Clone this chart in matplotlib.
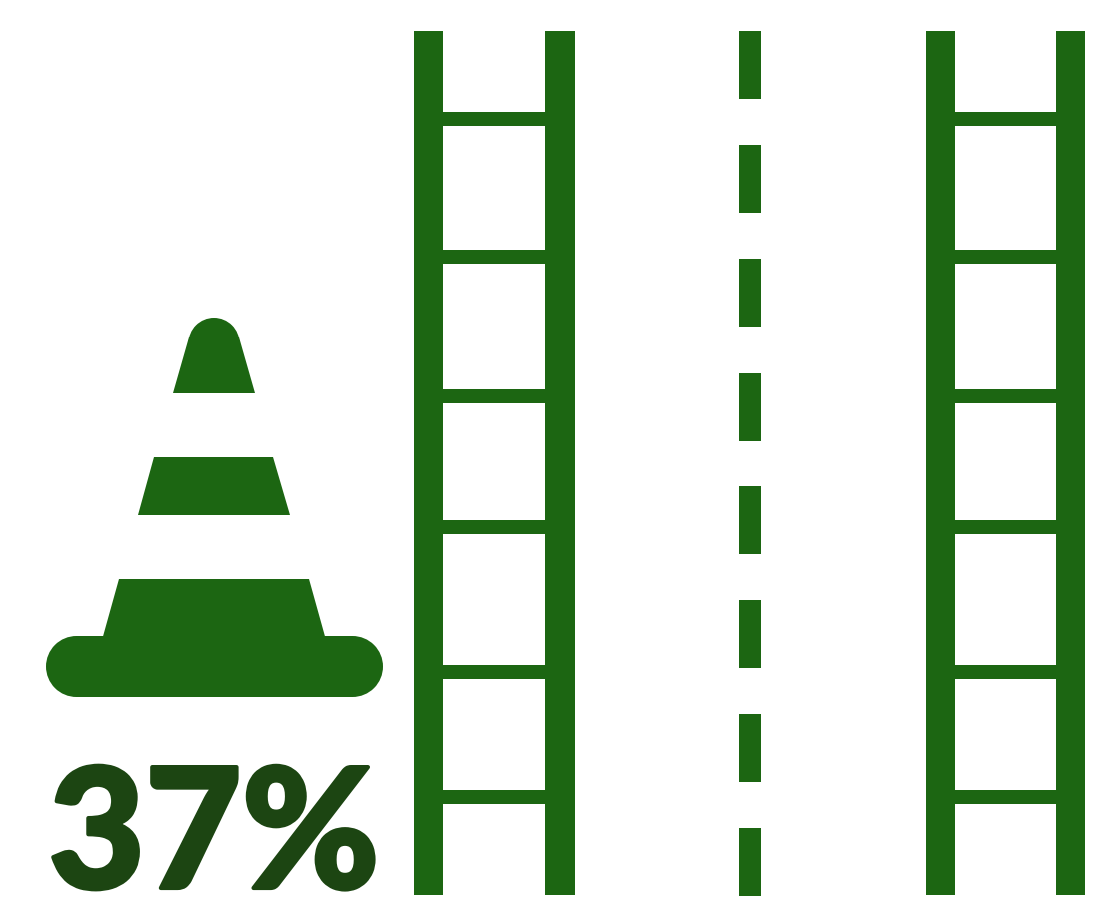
import matplotlib
matplotlib.use("Agg")
import matplotlib.pyplot as plt
import matplotlib.patheffects as pe
from matplotlib.patches import Polygon, Rectangle, Circle

# values (pixels, y down)
percent_label = "37%"
left_ladder_x = [414, 443, 545, 575]
right_ladder_x = [926, 955, 1056, 1085]
road_top = 31
road_bottom = 895
rung_tops = [112, 250, 389, 520, 665, 790]
rung_height = 14
dash_x = [739, 761]
dash_tops = [31, 145, 259, 373, 486, 600, 714, 828]
dash_height = 67.5

green = "#1c6612"
dark_green = "#1c4512"

fig = plt.figure(figsize=(11.03, 9.0), dpi=100)
ax = fig.add_axes([0, 0, 1, 1])
ax.set_xlim(0, 1103)
ax.set_ylim(900, 0)
ax.axis("off")


def rect(x0, y0, x1, y1):
    ax.add_patch(Rectangle((x0, y0), x1 - x0, y1 - y0, fc=green, ec="none"))


# ladders
for xs in [left_ladder_x, right_ladder_x]:
    rect(xs[0], road_top, xs[1], road_bottom)
    rect(xs[2], road_top, xs[3], road_bottom)
    for top in rung_tops:
        rect(xs[0], top, xs[3], top + rung_height)

# centre dashes
for top in dash_tops:
    rect(dash_x[0], top, dash_x[1], top + dash_height)

# cone
ax.add_patch(Circle((214, 343.5), 25.5, fc=green, ec="none"))
ax.add_patch(Polygon([(189, 337), (239, 337), (255, 393), (173, 393)], fc=green, ec="none"))
ax.add_patch(Polygon([(154, 457), (273, 457), (290, 515), (138, 515)], fc=green, ec="none"))
ax.add_patch(Polygon([(119, 579), (309, 579), (326, 640), (102, 640)], fc=green, ec="none"))

# cone base, a pill shape
rect(76, 636, 353, 697)
ax.add_patch(Circle((76.5, 666.5), 30.5, fc=green, ec="none"))
ax.add_patch(Circle((352.5, 666.5), 30.5, fc=green, ec="none"))

txt = ax.text(214, 888, percent_label, color=dark_green, fontsize=120, fontweight=900,
              family="Lato", ha="center", va="baseline")
txt.set_path_effects([pe.withStroke(linewidth=3, foreground=dark_green)])

fig.savefig("out.png", dpi=100)
